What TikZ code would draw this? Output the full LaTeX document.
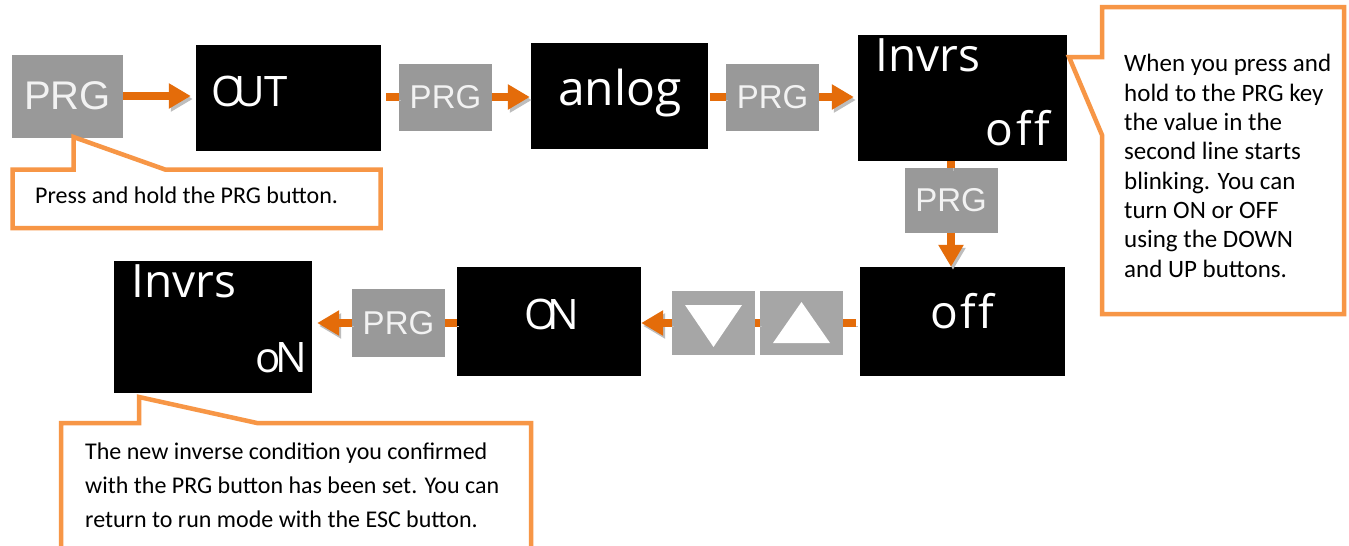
\documentclass[tikz,border=0pt]{standalone}
\usepackage{fontspec}
\setmainfont{Carlito}
\newfontfamily\lcdfont{Open Sans}
\newfontfamily\keyfont{Liberation Sans}
\usepackage{tikz}
\usetikzlibrary{arrows.meta}

\definecolor{arrorange}{HTML}{E46C0A}
\definecolor{noteorange}{HTML}{F79646}
\definecolor{keygray}{HTML}{999999}
\definecolor{padgray}{HTML}{A6A6A6}
\definecolor{shadowgray}{HTML}{BDBDBD}
\definecolor{keytext}{HTML}{F2F2F2}

\tikzset{
  lcd/.style={fill=black, inner sep=0pt},
  lcdtext/.style={text=white, inner sep=0pt, font=\lcdfont\fontsize{46}{46}\selectfont},
  prgkey/.style={fill=keygray, inner sep=0pt, text=keytext, minimum width=93pt, minimum height=67pt, font=\keyfont\fontsize{33}{33}\selectfont},
  padkey/.style={fill=padgray, inner sep=0pt, minimum width=83pt, minimum height=64pt},
  flowline/.style={draw=arrorange, line width=8pt,
    preaction={draw=shadowgray, transform canvas={shift={(2pt,-3pt)}}}},
  flowarrow/.style={flowline, -{Triangle[length=22pt,width=24pt]}},
  note/.style={draw=noteorange, line width=4.5pt, fill=white, line join=miter},
  notetext/.style={inner sep=0pt, align=left, font=\fontsize{24}{34}\selectfont},
}

\begin{document}
\begin{tikzpicture}[x=1pt, y=-1pt]
  \useasboundingbox[fill=white] (0,0) rectangle (1349,546);

  % top row
  \node[prgkey, minimum width=111pt, minimum height=83pt, font=\keyfont\fontsize{40}{40}\selectfont] (prg1) at (67.5,96) {PRG};
  \node[lcd, minimum width=185pt, minimum height=106pt] (out) at (288.5,98) {};
  \node[prgkey] (prg2) at (445.5,97) {PRG};
  \node[lcd, minimum width=177pt, minimum height=106pt] (anlog) at (619.5,96) {};
  \node[prgkey] (prg3) at (772.5,97) {PRG};
  \node[lcd, minimum width=209pt, minimum height=126pt] (inv1) at (962.5,98) {};

  % down the right side
  \node[prgkey, minimum height=65pt] (prg4) at (951,200.5) {PRG};
  \node[lcd, minimum width=205pt, minimum height=109pt] (off) at (962.5,321.5) {};

  % bottom row, right to left
  \node[padkey] (up) at (801.5,323) {};
  \node[padkey] (down) at (713.5,323) {};
  \node[lcd, minimum width=184pt, minimum height=109pt] (on) at (549,321.5) {};
  \node[prgkey, minimum height=68pt] (prg5) at (398.5,323) {PRG};
  \node[lcd, minimum width=198pt, minimum height=132pt] (inv2) at (213,327) {};

  % display contents
  \node[lcdtext, anchor=base west, font=\lcdfont\fontsize{42}{42}\selectfont] (outtxt) at (211,106) {O\kern-9pt U\kern-1pt T};
  \node[lcdtext, anchor=base, font=\lcdfont\fontsize{48}{48}\selectfont] (anlogtxt) at (620,105) {anlog};
  \node[lcdtext, anchor=base west] (inv1a) at (875,71) {Invrs};
  \node[lcdtext, anchor=base east] (inv1b) at (1050,145) {o\kern3pt f\kern2pt f};
  \node[lcdtext, anchor=base] (offtxt) at (962,328) {o\kern3pt f\kern2pt f};
  \node[lcdtext, anchor=base, font=\lcdfont\fontsize{42}{42}\selectfont] (ontxt) at (552,329) {O\kern-10pt N};
  \node[lcdtext, anchor=base west] (inv2a) at (131,297) {Invrs};
  \node[lcdtext, anchor=base east, font=\lcdfont\fontsize{42}{42}\selectfont] (inv2b) at (307,372) {o\kern-6pt N};

  % arrow keys
  \fill[white] ([shift={(-28.5,-18)}]down.center) -- ([shift={(28.5,-18)}]down.center)
    -- ([shift={(0,24)}]down.center) -- cycle;
  \fill[white] ([shift={(0,-21)}]up.center) -- ([shift={(28.5,20)}]up.center)
    -- ([shift={(-28.5,20)}]up.center) -- cycle;

  % flow
  \draw[flowarrow, shorten >=5pt] (prg1.east) -- (prg1.east -| out.west);
  \draw[flowline, shorten <=5pt] (out.east |- prg2.west) -- (prg2.west);
  \draw[flowarrow, shorten >=1pt] (prg2.east) -- (prg2.east -| anlog.west);
  \draw[flowline, shorten <=2pt] (anlog.east |- prg3.west) -- (prg3.west);
  \draw[flowarrow, shorten >=4pt] (prg3.east) -- (prg3.east -| inv1.west);
  \draw[flowline] (inv1.south -| prg4.north) -- (prg4.north);
  \draw[flowarrow] (prg4.south) -- (prg4.south |- off.north);
  \draw[flowline, shorten <=4pt] (off.west |- up.east) -- (up.east);
  \draw[flowline] (up.west) -- (down.east);
  \draw[flowarrow] (down.west) -- (down.west -| on.east);
  \draw[flowline] (on.west |- prg5.east) -- (prg5.east);
  \draw[flowarrow, shorten >=5pt] (prg5.west) -- (prg5.west -| inv2.east);

  % callouts
  \draw[note] (12.5,169.5) -- (73.5,169.5) -- (73.5,137) -- (165,169.5) -- (380.5,169.5)
    -- (380.5,228) -- (12.5,228) -- cycle;
  \node[notetext, anchor=base west] (tip1) at (35,203) {Press and hold the PRG button.};

  \draw[note] (1102,7) -- (1344,7) -- (1344,314) -- (1102,314) -- (1102,135)
    -- (1069,57) -- (1102,57) -- cycle;
  \node[notetext, anchor=base west, font=\fontsize{25}{29.3}\selectfont] (tip2) at (1124,277)
    {When you press and\\hold to the PRG key\\the value in the\\second line starts\\blinking. You can\\turn ON or OFF\\using the DOWN\\and UP buttons.};

  \draw[note] (61,546) -- (61,423) -- (139,423) -- (139,397) -- (257,423) -- (531,423) -- (531,546);
  \node[notetext, anchor=base west] (tip3) at (85,527)
    {The new inverse condition you confirmed\\with the PRG button has been set. You can\\return to run mode with the ESC button.};
\end{tikzpicture}
\end{document}
